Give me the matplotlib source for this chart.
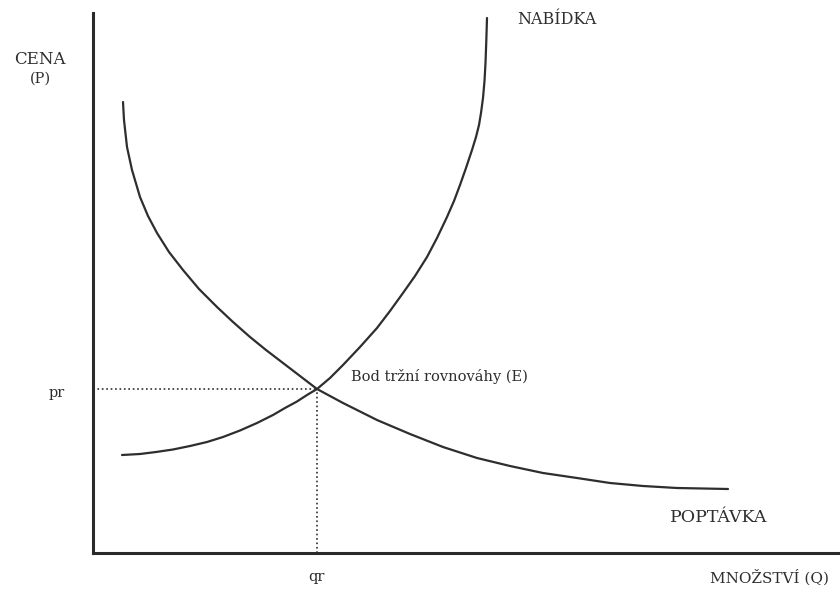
import matplotlib.pyplot as plt

# Points (Q = quantity, P = price)
supply_q = [29, 47, 63, 80, 97, 114, 130, 147, 164, 180, 192, 204, 214, 224, 237, 250, 267,
            284, 297, 310, 322, 334, 344, 354, 361, 367, 373, 379, 383, 386, 388, 390, 391.5,
            392.5, 393.3, 394]
supply_p = [98, 99, 101, 103.5, 107, 111, 116, 122.5, 130, 138, 145, 151.5, 158, 164, 175, 188, 206,
            225, 242, 260, 277, 296, 315, 336, 352, 368, 385, 403, 416, 428, 440, 455, 472,
            490, 512, 535]

demand_q = [30, 31, 34, 39, 47, 55, 64, 76, 90, 106, 124, 140, 157, 173, 190, 207, 224, 250, 284,
            317, 350, 384, 417, 450, 484, 517, 550, 584, 635]
demand_p = [451, 433, 406, 383, 356, 337, 320, 301, 283, 264, 246, 231, 216, 203, 190, 177, 164, 150, 133,
            119, 106, 95, 87, 80, 75, 70, 67, 65, 64]

eq_q = 224
eq_p = 164

plt.rcParams['font.family'] = ['DejaVu Serif']

fig = plt.figure(figsize=(8.4, 5.89), dpi=100)
ax = fig.add_axes([93 / 840, 36 / 589, 747 / 840, 540 / 589])

ink = '#2e2e2e'
ax.plot(supply_q, supply_p, color=ink, lw=1.6, solid_capstyle='round', solid_joinstyle='round')
ax.plot(demand_q, demand_p, color=ink, lw=1.6, solid_capstyle='round', solid_joinstyle='round')

# equilibrium guides
ax.plot([0, eq_q], [eq_p, eq_p], color=ink, lw=1.2, ls=':')
ax.plot([eq_q, eq_q], [0, eq_p], color=ink, lw=1.2, ls=':')

ax.set_xlim(0, 747)
ax.set_ylim(0, 540)
for s in ['top', 'right']:
    ax.spines[s].set_visible(False)
for s in ['left', 'bottom']:
    ax.spines[s].set_linewidth(2.2)
    ax.spines[s].set_color('#2a2a2a')
ax.set_xticks([])
ax.set_yticks([])

fs = 10.5
tc = '#2e2e2e'
ax.text(eq_q + 34, eq_p + 12, 'Bod tržní rovnováhy (E)', fontsize=fs, color=tc, va='center', ha='left')
ax.text(424, 533, 'NABÍDKA', fontsize=11.5, color=tc, va='center', ha='left')
ax.text(577, 36, 'POPTÁVKA', fontsize=12.5, color=tc, va='center', ha='left')

fig.text(40 / 840, 1 - 60 / 589, 'CENA', fontsize=12, color=tc, ha='center', va='center')
fig.text(40 / 840, 1 - 79 / 589, '(P)', fontsize=fs, color=tc, ha='center', va='center')
fig.text(57 / 840, 1 - 393 / 589, 'pr', fontsize=fs, color=tc, ha='center', va='center')
fig.text(316 / 840, 1 - 577 / 589, 'qr', fontsize=fs, color=tc, ha='center', va='center')
fig.text(770 / 840, 1 - 577 / 589, 'MNOŽSTVÍ (Q)', fontsize=11, color=tc, ha='center', va='center')

fig.savefig('out.png', dpi=100)
